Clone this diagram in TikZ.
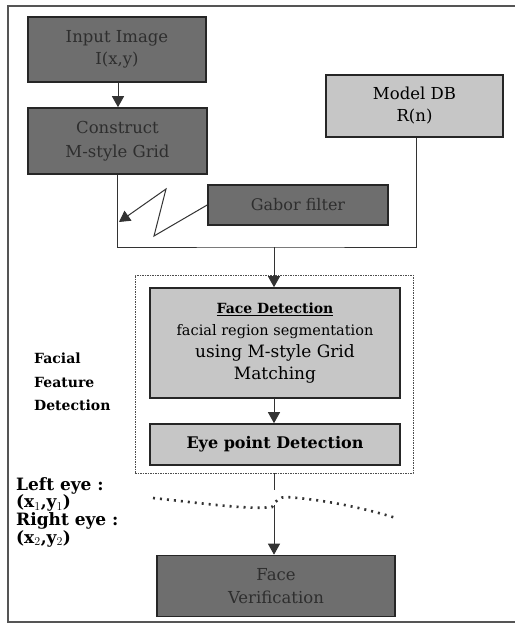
\documentclass[tikz,border=0pt]{standalone}
\usepackage{fontspec}
\setmainfont{DejaVu Serif}
\usetikzlibrary{arrows.meta}
\definecolor{darkbox}{HTML}{6E6E6E}
\definecolor{lightbox}{HTML}{C6C6C6}
\definecolor{darktext}{HTML}{2E2E2E}
\definecolor{framecol}{HTML}{555555}
\begin{document}
\begin{tikzpicture}[x=1pt,y=-1pt,
  darknode/.style={draw=black!85,line width=1.6pt,fill=darkbox,text=darktext,align=center,inner sep=0pt,font=\fontsize{16.5}{22}\selectfont},
  lightnode/.style={draw=black!85,line width=1.6pt,fill=lightbox,text=black,align=center,inner sep=0pt,font=\fontsize{16.5}{22}\selectfont},
  conn/.style={draw=black!80,line width=1pt},
  tip/.style={-{Triangle[width=12pt,length=11pt]}},
  sidelabel/.style={align=left,anchor=west,inner sep=0pt,font=\bfseries\fontsize{17}{17.7}\selectfont},
  dotbox/.style={draw=black!70,line width=0.8pt,dash pattern=on 1.5pt off 1pt,inner sep=0pt}
]
\useasboundingbox (0,0) rectangle (514,629);
\fill[white] (0,0) rectangle (514,629);
% outer frame
\draw[framecol,line width=1.8pt] (8,6) rectangle (520,622);

% nodes
\node[darknode,minimum width=178pt,minimum height=65pt] (input) at (117,49.5) {Input Image\\I(x,y)};
\node[darknode,minimum width=179pt,minimum height=66pt,font=\fontsize{16.5}{24}\selectfont] (construct) at (117.5,141) {Construct\\M-style Grid};
\node[lightnode,minimum width=177pt,minimum height=62pt] (model) at (414.5,106) {Model DB\\R(n)};
\node[darknode,minimum width=180pt,minimum height=40pt,font=\fontsize{16}{18}\selectfont] (gabor) at (298,205) {Gabor filter};
\node[dotbox,minimum width=278pt,minimum height=198pt] (group) at (274,374) {};
\node[lightnode,minimum width=250pt,minimum height=110pt,font=\fontsize{17}{22}\selectfont] (face) at (275,343)
  {\underline{\textbf{\fontsize{14}{22}\selectfont Face Detection}}\\{\fontsize{14.5}{22}\selectfont facial region segmentation}\\using M-style Grid\\Matching};
\node[lightnode,minimum width=250pt,minimum height=41pt,font=\bfseries\fontsize{16}{18}\selectfont] (eye) at (275,444.5) {Eye point Detection};
\node[darknode,minimum width=238pt,minimum height=61pt,font=\fontsize{16.5}{23}\selectfont] (verif) at (276,586) {Face\\Verification};

% side labels
\node[sidelabel,font=\bfseries\fontsize{14}{23.5}\selectfont] (fflabel) at (34,382) {Facial\\Feature\\Detection};
\node[sidelabel] (eyelabel) at (16,512) {Left eye :\\(x$_1$,y$_1$)\\Right eye :\\(x$_2$,y$_2$)};

% coordinates
\coordinate (merge) at (274,247);
\coordinate (zz1) at (154,236);
\coordinate (zz2) at (166,189);
\coordinate (zztip) at (119,222);
\coordinate (gap1) at (274,490);
\coordinate (gap2) at (274,505);

% connectors
\draw[conn,tip] (input.south -| 118,0) -- (construct.north -| 118,0);
\draw[conn] (construct.south) |- (merge) -| (model.south -| 416,0);
\draw[conn,tip] (merge) -- (face.north -| merge);
\draw[conn,tip] (face.south -| merge) -- (eye.north -| merge);
\draw[conn,tip] (gabor.west) -- (zz1) -- (zz2) -- (zztip);
\draw[conn] (group.south) -- (gap1);
\draw[conn,tip] (gap2) -- (verif.north -| gap2);

% dotted wavy line
\draw[black!80,line width=2.6pt,dash pattern=on 2pt off 5pt]
  (153,498) .. controls (200,503) and (250,510) .. (272,507)
  .. controls (276,500) and (280,497) .. (286,497)
  .. controls (330,500) and (370,510) .. (396,518);
\end{tikzpicture}
\end{document}
